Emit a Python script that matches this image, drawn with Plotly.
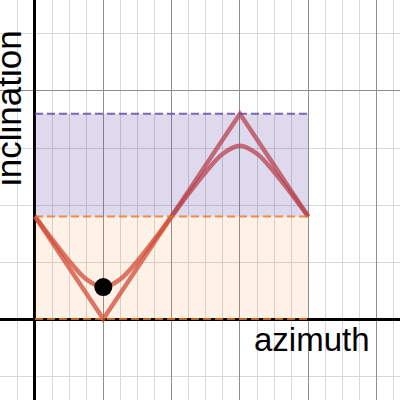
import plotly.graph_objects as go

# azimuth in degrees, inclination in graph units
tri_az = [0, 90, 270, 360]
tri_inc = [0.45, 0.0, 0.9, 0.45]

curve_az = [0, 22.5, 45, 67.5, 90, 112.5, 135, 157.5, 180,
            202.5, 225, 247.5, 270, 292.5, 315, 337.5, 360]
curve_inc = [0.45, 0.35, 0.255, 0.175, 0.14, 0.175, 0.255, 0.35, 0.45,
             0.55, 0.645, 0.725, 0.76, 0.725, 0.645, 0.55, 0.45]

band_az = [0, 360]
low_band = [0.0, 0.45]
high_band = [0.45, 0.9]

dot_az = [90]
dot_inc = [0.14]

line_col = "rgba(205,70,60,0.75)"
orange = "#e8782a"
purple = "#6042a6"

fig = go.Figure()

fig.add_trace(go.Scatter(x=tri_az, y=tri_inc, mode="lines",
                         line=dict(color=line_col, width=4.5)))
fig.add_trace(go.Scatter(x=curve_az, y=curve_inc, mode="lines",
                         line=dict(color=line_col, width=4.5, shape="spline")))


def band(lo_hi, fill):
    a0, a1 = band_az
    lo, hi = lo_hi
    return go.Scatter(x=[a0, a1, a1, a0, a0], y=[lo, lo, hi, hi, lo],
                      mode="none", fill="toself", fillcolor=fill)


fig.add_trace(band(low_band, "rgba(250,126,25,0.11)"))
fig.add_trace(band(high_band, "rgba(96,66,166,0.2)"))

# dashed boundaries
for yv, col in [(low_band[0], orange), (low_band[1], orange), (high_band[1], purple)]:
    fig.add_trace(go.Scatter(x=band_az, y=[yv, yv], mode="lines",
                             line=dict(color=col, width=2, dash="8px,4px"),
                             opacity=0.8))

fig.add_trace(go.Scatter(x=dot_az, y=dot_inc, mode="markers",
                         marker=dict(color="black", size=18)))

fig.update_xaxes(range=[-46.1, 480.9], dtick=90, tick0=0, showticklabels=False,
                 showgrid=True, gridcolor="#8f8f8f", gridwidth=1.3,
                 zeroline=True, zerolinecolor="black", zerolinewidth=3,
                 minor=dict(dtick=22.5, tick0=0, showgrid=True, gridcolor="#d8d8d8", gridwidth=1.3),
                 fixedrange=True)
fig.update_yaxes(range=[-0.355, 1.399], dtick=1, tick0=0, showticklabels=False,
                 showgrid=True, gridcolor="#8f8f8f", gridwidth=1.3,
                 zeroline=True, zerolinecolor="black", zerolinewidth=3,
                 minor=dict(dtick=0.25, tick0=0, showgrid=True, gridcolor="#d8d8d8", gridwidth=1.3),
                 fixedrange=True)

fig.add_annotation(text="azimuth", xref="paper", yref="paper", x=252 / 400, y=1 - 339 / 400,
                   xanchor="left", yanchor="middle", showarrow=False,
                   font=dict(family="Liberation Sans, Arial", size=33, color="black"))
fig.add_annotation(text="inclination", xref="paper", yref="paper", x=8 / 400, y=1 - 108 / 400,
                   xanchor="center", yanchor="middle", textangle=-90, showarrow=False,
                   font=dict(family="Liberation Sans, Arial", size=35, color="black"))

fig.update_layout(width=400, height=400, margin=dict(l=0, r=0, t=0, b=0),
                  paper_bgcolor="white", plot_bgcolor="white", showlegend=False)

# page body margin would shift the plot by 8px
fig.write_html("out.html", config={"displayModeBar": False},
               post_script="document.body.style.margin='0';")
